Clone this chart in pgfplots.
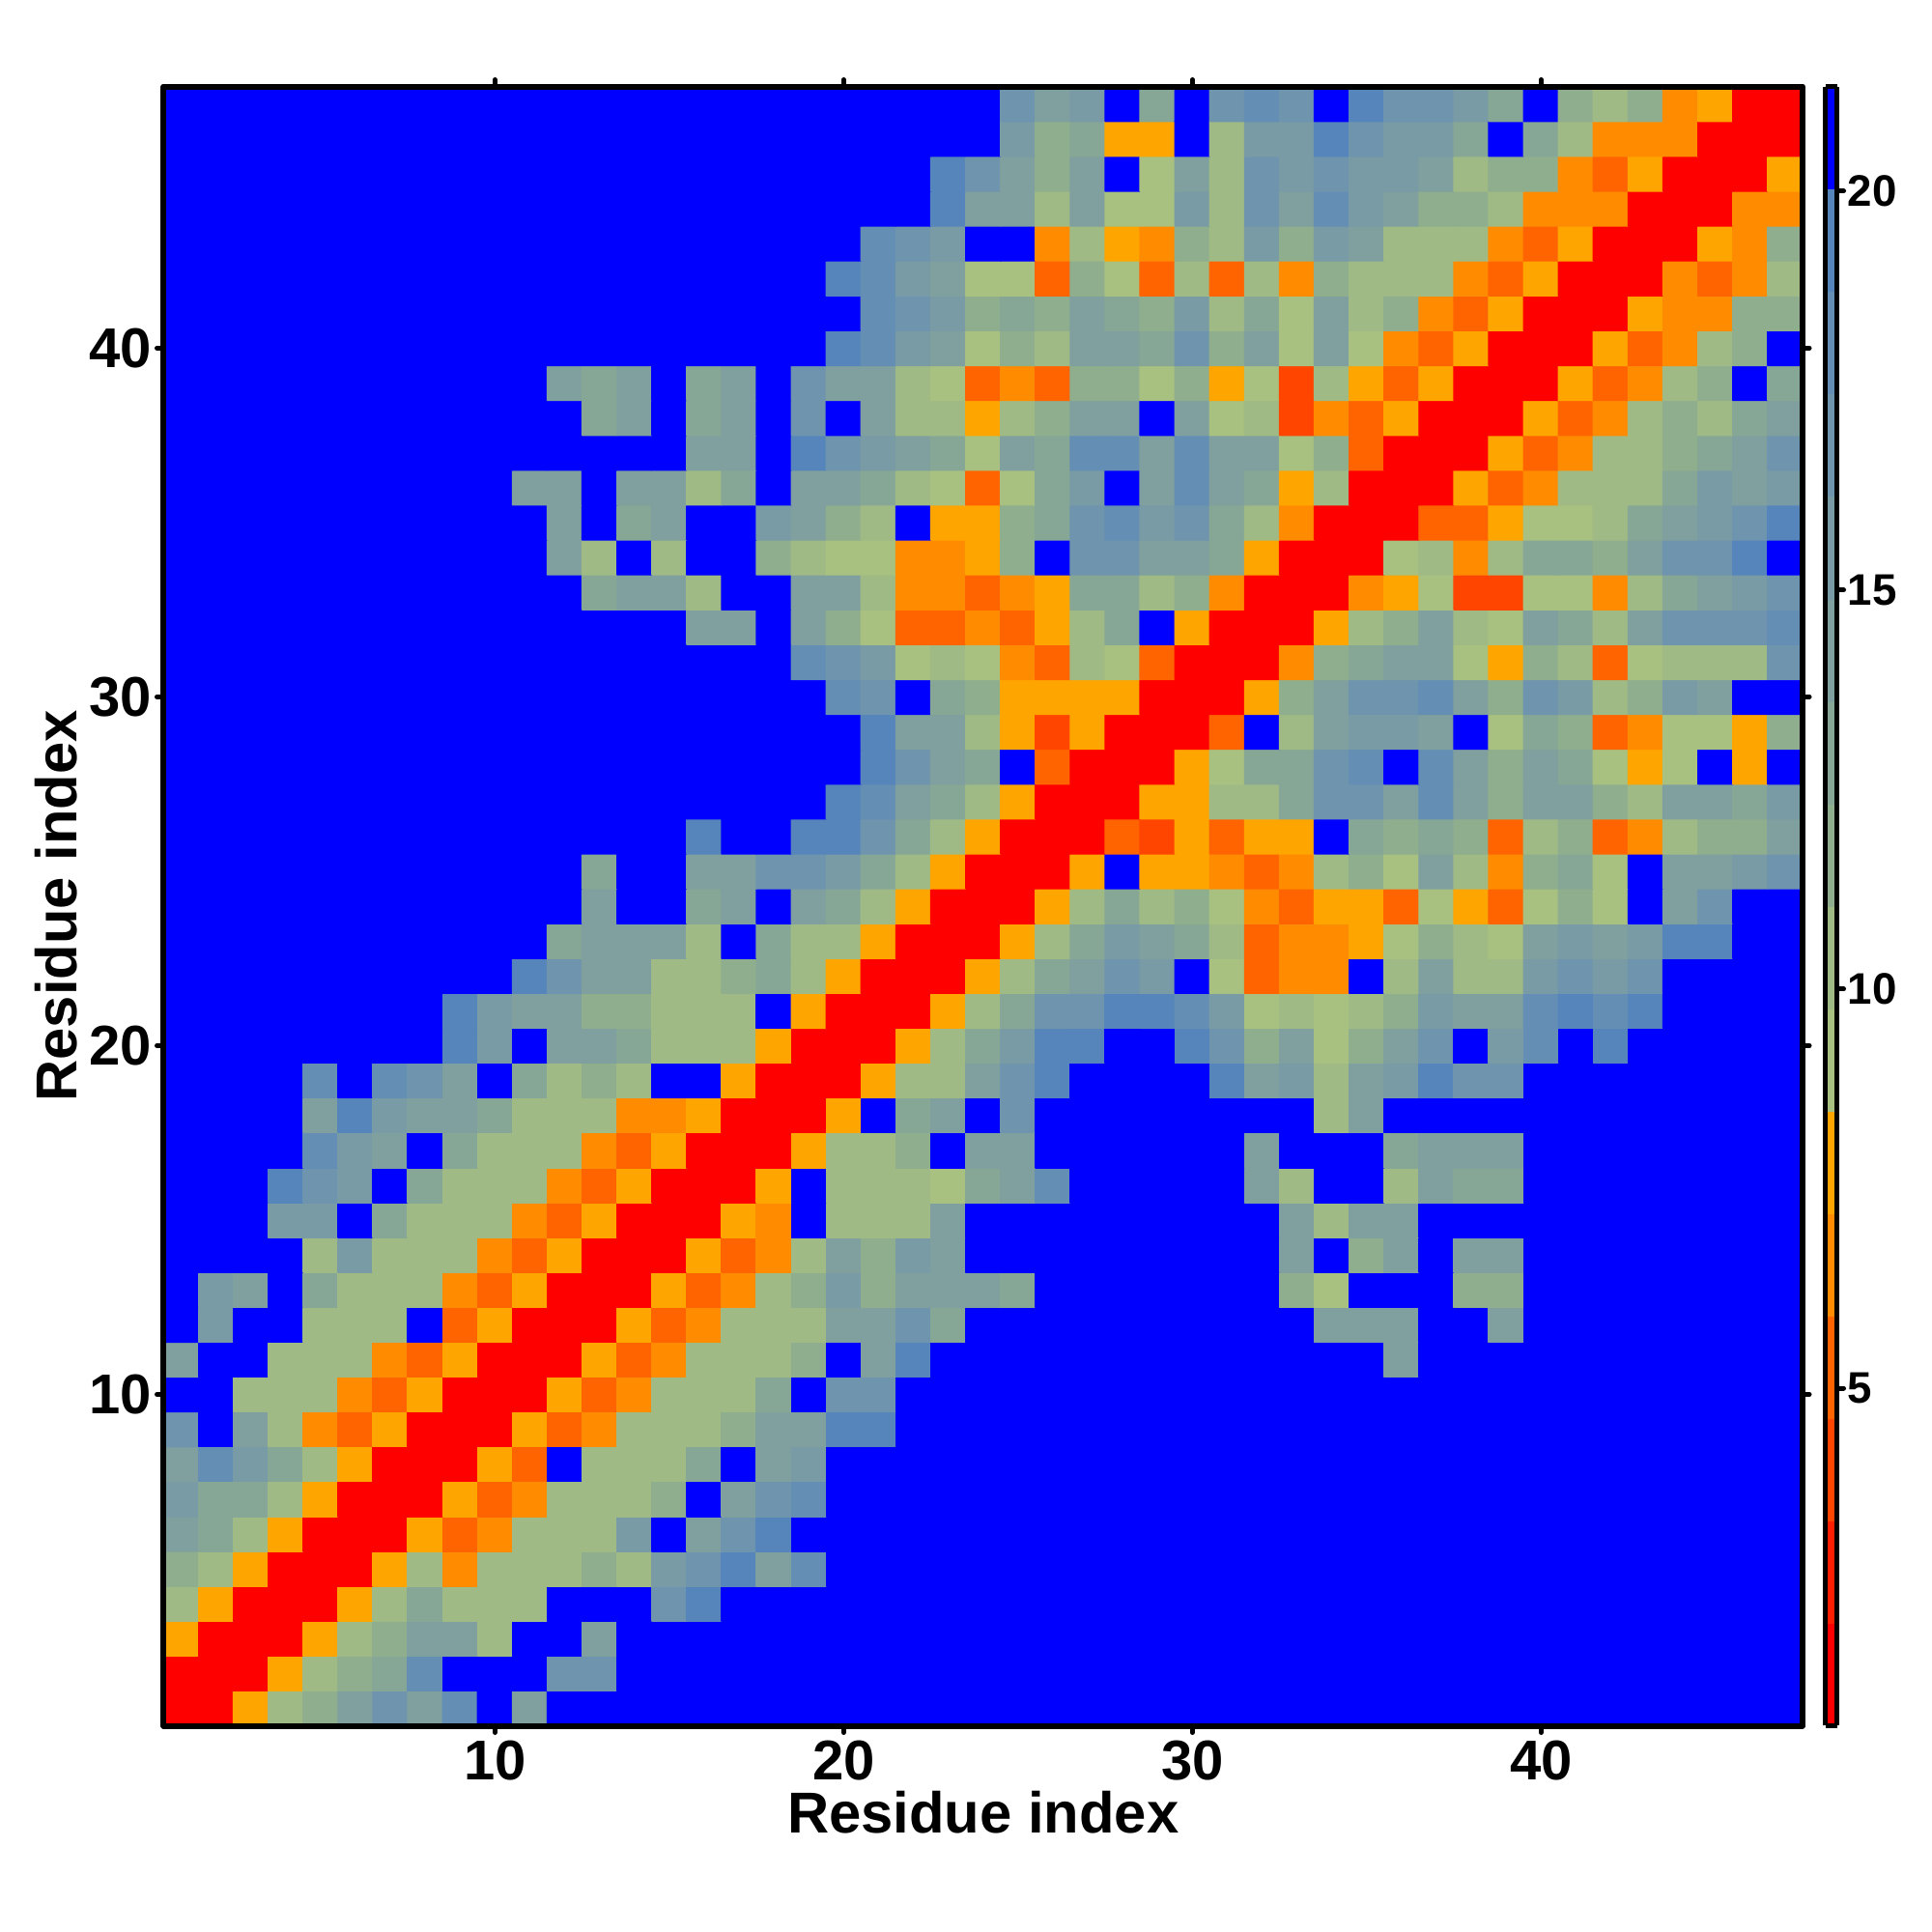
\documentclass[border=0pt]{standalone}
\usepackage{fontspec}
\setmainfont{Liberation Sans}
\usepackage{pgfplots}
\pgfplotsset{compat=1.18}
\begin{document}
\begin{tikzpicture}[line join=round]
\path[use as bounding box] (0,0) rectangle (20cm,20cm);
\begin{axis}[
  at={(1.695cm,2.135cm)}, anchor=south west,
  scale only axis, width=16.965cm, height=16.97cm,
  xmin=0.5, xmax=47.5, ymin=0.5, ymax=47.5,
  xtick={10,20,30,40}, ytick={10,20,30,40},
  tick align=outside, major tick length=0.07cm,
  tick style={black, line width=0.05cm, line cap=round},
  axis line style={black, line width=0.06cm, line join=round},
  axis on top,
  /pgf/number format/assume math mode=true,
  ticklabel style={font=\bfseries\fontsize{16.5}{16.5}\selectfont},
  xticklabel style={yshift=0.04cm},
  yticklabel style={xshift=0.07cm},
  xlabel={Residue index}, ylabel={Residue index},
  label style={font=\bfseries\fontsize{17}{17}\selectfont},
  xlabel style={yshift=0.125cm},
  ylabel style={yshift=-0.12cm},
  colormap={contact}{
    rgb255=(255,0,0) rgb255=(255,30,0) rgb255=(255,69,0) rgb255=(255,100,0)
    rgb255=(255,140,0) rgb255=(255,165,0)
    rgb255=(168,192,128) rgb255=(160,186,133) rgb255=(143,174,142)
    rgb255=(135,167,150) rgb255=(127,160,158) rgb255=(120,155,165)
    rgb255=(111,148,174) rgb255=(100,142,180) rgb255=(85,133,187)
    rgb255=(0,0,255)},
  colormap access=piecewise constant,
  point meta min=0.77, point meta max=21.31,
  colorbar, colorbar sampled,
  colorbar style={
    samples=17,
    at={(1.01385,0)}, anchor=south west,
    width=0.12cm,
    axis on top,
    ytick={5,10,15,20},
    ytick pos=right,
    tick align=outside, major tick length=0.07cm,
    tick style={black, line width=0.05cm, line cap=round},
    axis line style={black, line width=0.05cm, line join=round},
    /pgf/number format/assume math mode=true,
    yticklabel style={font=\bfseries\fontsize{13}{13}\selectfont, xshift=-0.08cm},
  },
]
\addplot[matrix plot*, mesh/cols=47, point meta=explicit]
  table[row sep=\\, header=false, x expr={\coordindex-47*floor((\coordindex+0.5)/47)+1}, y expr={floor((\coordindex+0.5)/47)+1}, meta index=0] {
1\\1\\8\\10\\12\\14\\17\\14\\18\\21\\14\\21\\21\\21\\21\\21\\ 21\\21\\21\\21\\21\\21\\21\\21\\21\\21\\21\\21\\21\\21\\21\\21\\ 21\\21\\21\\21\\21\\21\\21\\21\\21\\21\\21\\21\\21\\21\\21\\
1\\1\\1\\8\\10\\12\\13\\18\\21\\21\\21\\17\\17\\21\\21\\21\\ 21\\21\\21\\21\\21\\21\\21\\21\\21\\21\\21\\21\\21\\21\\21\\21\\ 21\\21\\21\\21\\21\\21\\21\\21\\21\\21\\21\\21\\21\\21\\21\\
8\\1\\1\\1\\8\\10\\12\\14\\14\\10\\21\\21\\14\\21\\21\\21\\ 21\\21\\21\\21\\21\\21\\21\\21\\21\\21\\21\\21\\21\\21\\21\\21\\ 21\\21\\21\\21\\21\\21\\21\\21\\21\\21\\21\\21\\21\\21\\21\\
10\\8\\1\\1\\1\\8\\10\\13\\10\\10\\10\\21\\21\\21\\17\\19\\ 21\\21\\21\\21\\21\\21\\21\\21\\21\\21\\21\\21\\21\\21\\21\\21\\ 21\\21\\21\\21\\21\\21\\21\\21\\21\\21\\21\\21\\21\\21\\21\\
12\\10\\8\\1\\1\\1\\8\\10\\7\\10\\10\\10\\12\\10\\16\\17\\ 19\\14\\18\\21\\21\\21\\21\\21\\21\\21\\21\\21\\21\\21\\21\\21\\ 21\\21\\21\\21\\21\\21\\21\\21\\21\\21\\21\\21\\21\\21\\21\\
14\\13\\10\\8\\1\\1\\1\\8\\5\\7\\10\\10\\10\\16\\21\\14\\ 17\\19\\21\\21\\21\\21\\21\\21\\21\\21\\21\\21\\21\\21\\21\\21\\ 21\\21\\21\\21\\21\\21\\21\\21\\21\\21\\21\\21\\21\\21\\21\\
16\\13\\13\\10\\8\\1\\1\\1\\8\\5\\7\\10\\10\\10\\12\\21\\ 14\\17\\18\\21\\21\\21\\21\\21\\21\\21\\21\\21\\21\\21\\21\\21\\ 21\\21\\21\\21\\21\\21\\21\\21\\21\\21\\21\\21\\21\\21\\21\\
14\\18\\16\\13\\10\\8\\1\\1\\1\\8\\5\\21\\10\\10\\10\\13\\ 21\\14\\16\\21\\21\\21\\21\\21\\21\\21\\21\\21\\21\\21\\21\\21\\ 21\\21\\21\\21\\21\\21\\21\\21\\21\\21\\21\\21\\21\\21\\21\\
17\\21\\14\\10\\7\\5\\8\\1\\1\\1\\8\\5\\7\\10\\10\\10\\ 12\\14\\14\\19\\19\\21\\21\\21\\21\\21\\21\\21\\21\\21\\21\\21\\ 21\\21\\21\\21\\21\\21\\21\\21\\21\\21\\21\\21\\21\\21\\21\\
21\\21\\10\\10\\10\\7\\5\\8\\1\\1\\1\\8\\5\\7\\10\\10\\ 10\\13\\21\\17\\17\\21\\21\\21\\21\\21\\21\\21\\21\\21\\21\\21\\ 21\\21\\21\\21\\21\\21\\21\\21\\21\\21\\21\\21\\21\\21\\21\\
14\\21\\21\\10\\10\\10\\7\\5\\8\\1\\1\\1\\8\\5\\7\\10\\ 10\\10\\12\\21\\14\\19\\21\\21\\21\\21\\21\\21\\21\\21\\21\\21\\ 21\\21\\21\\14\\21\\21\\21\\21\\21\\21\\21\\21\\21\\21\\21\\
21\\16\\21\\21\\10\\10\\10\\21\\5\\8\\1\\1\\1\\8\\5\\7\\ 10\\10\\10\\14\\14\\17\\13\\21\\21\\21\\21\\21\\21\\21\\21\\21\\ 21\\14\\14\\14\\21\\21\\14\\21\\21\\21\\21\\21\\21\\21\\21\\
21\\16\\14\\21\\13\\10\\10\\10\\7\\5\\8\\1\\1\\1\\8\\5\\ 7\\10\\12\\16\\12\\14\\14\\14\\13\\21\\21\\21\\21\\21\\21\\21\\ 12\\9\\21\\21\\21\\12\\12\\21\\21\\21\\21\\21\\21\\21\\21\\
21\\21\\21\\21\\10\\16\\10\\10\\10\\7\\5\\8\\1\\1\\1\\8\\ 5\\7\\10\\14\\12\\16\\14\\21\\21\\21\\21\\21\\21\\21\\21\\21\\ 14\\21\\12\\14\\21\\14\\14\\21\\21\\21\\21\\21\\21\\21\\21\\
21\\21\\21\\16\\16\\21\\13\\10\\10\\10\\7\\5\\8\\1\\1\\1\\ 8\\7\\21\\10\\10\\10\\14\\21\\21\\21\\21\\21\\21\\21\\21\\21\\ 14\\10\\14\\14\\21\\21\\21\\21\\21\\21\\21\\21\\21\\21\\21\\
21\\21\\21\\19\\17\\16\\21\\13\\10\\10\\10\\7\\5\\8\\1\\1\\ 1\\8\\21\\10\\10\\10\\9\\13\\14\\18\\21\\21\\21\\21\\21\\14\\ 10\\21\\21\\10\\14\\13\\13\\21\\21\\21\\21\\21\\21\\21\\21\\
21\\21\\21\\21\\18\\16\\14\\21\\13\\10\\10\\10\\7\\5\\8\\1\\ 1\\1\\8\\10\\10\\12\\21\\14\\14\\21\\21\\21\\21\\21\\21\\14\\ 21\\21\\21\\13\\14\\14\\14\\21\\21\\21\\21\\21\\21\\21\\21\\
21\\21\\21\\21\\14\\19\\16\\14\\14\\13\\10\\10\\10\\7\\7\\8\\ 1\\1\\1\\8\\21\\13\\14\\21\\17\\21\\21\\21\\21\\21\\21\\21\\ 21\\10\\14\\21\\21\\21\\21\\21\\21\\21\\21\\21\\21\\21\\21\\
21\\21\\21\\21\\18\\21\\18\\17\\14\\21\\13\\10\\12\\10\\21\\21\\ 8\\1\\1\\1\\8\\10\\10\\14\\17\\19\\21\\21\\21\\21\\19\\14\\ 16\\10\\14\\16\\19\\17\\17\\21\\21\\21\\21\\21\\21\\21\\21\\
21\\21\\21\\21\\21\\21\\21\\21\\19\\16\\21\\14\\14\\13\\10\\10\\ 10\\8\\1\\1\\1\\8\\10\\13\\16\\19\\19\\21\\21\\19\\17\\12\\ 14\\9\\12\\14\\17\\21\\16\\18\\21\\19\\21\\21\\21\\21\\21\\
21\\21\\21\\21\\21\\21\\21\\21\\19\\16\\14\\14\\12\\12\\10\\10\\ 10\\21\\8\\1\\1\\1\\8\\10\\13\\17\\17\\19\\19\\18\\16\\9\\ 10\\9\\10\\12\\16\\14\\14\\18\\19\\18\\19\\21\\21\\21\\21\\
21\\21\\21\\21\\21\\21\\21\\21\\21\\21\\19\\17\\14\\14\\10\\10\\ 12\\13\\10\\8\\1\\1\\1\\8\\10\\13\\14\\17\\16\\21\\9\\5\\ 7\\7\\21\\10\\14\\10\\10\\16\\17\\16\\17\\21\\21\\21\\21\\
21\\21\\21\\21\\21\\21\\21\\21\\21\\21\\21\\13\\14\\14\\14\\10\\ 21\\13\\10\\10\\8\\1\\1\\1\\8\\10\\13\\16\\14\\13\\10\\5\\ 7\\7\\8\\9\\12\\10\\9\\14\\16\\14\\16\\19\\19\\21\\21\\
21\\21\\21\\21\\21\\21\\21\\21\\21\\21\\21\\21\\14\\21\\21\\13\\ 14\\21\\14\\13\\10\\8\\1\\1\\1\\8\\10\\13\\10\\12\\9\\7\\ 5\\8\\8\\5\\9\\8\\5\\9\\12\\9\\21\\14\\17\\21\\21\\
21\\21\\21\\21\\21\\21\\21\\21\\21\\21\\21\\21\\13\\21\\21\\14\\ 14\\17\\17\\16\\13\\10\\8\\1\\1\\1\\8\\21\\8\\8\\7\\5\\ 7\\10\\12\\9\\14\\10\\7\\12\\13\\9\\21\\14\\14\\16\\17\\
21\\21\\21\\21\\21\\21\\21\\21\\21\\21\\21\\21\\21\\21\\21\\19\\ 21\\21\\19\\19\\17\\13\\10\\8\\1\\1\\1\\5\\4\\8\\5\\8\\ 8\\21\\13\\12\\13\\12\\5\\10\\12\\5\\7\\10\\12\\12\\14\\
21\\21\\21\\21\\21\\21\\21\\21\\21\\21\\21\\21\\21\\21\\21\\21\\ 21\\21\\21\\19\\18\\14\\13\\10\\8\\1\\1\\1\\8\\8\\10\\10\\ 13\\17\\17\\14\\18\\14\\12\\14\\14\\12\\10\\14\\14\\13\\16\\
21\\21\\21\\21\\21\\21\\21\\21\\21\\21\\21\\21\\21\\21\\21\\21\\ 21\\21\\21\\21\\19\\17\\14\\13\\21\\5\\1\\1\\1\\8\\9\\13\\ 13\\17\\18\\21\\18\\14\\12\\14\\13\\9\\8\\9\\21\\8\\21\\
21\\21\\21\\21\\21\\21\\21\\21\\21\\21\\21\\21\\21\\21\\21\\21\\ 21\\21\\21\\21\\19\\14\\14\\10\\8\\4\\8\\1\\1\\1\\5\\21\\ 10\\14\\16\\16\\14\\21\\9\\13\\12\\5\\7\\9\\9\\8\\12\\
21\\21\\21\\21\\21\\21\\21\\21\\21\\21\\21\\21\\21\\21\\21\\21\\ 21\\21\\21\\18\\17\\21\\13\\12\\8\\8\\8\\8\\1\\1\\1\\8\\ 12\\14\\17\\17\\18\\14\\12\\17\\16\\10\\12\\16\\14\\21\\21\\
21\\21\\21\\21\\21\\21\\21\\21\\21\\21\\21\\21\\21\\21\\21\\21\\ 21\\21\\18\\17\\16\\9\\10\\9\\7\\5\\10\\9\\5\\1\\1\\1\\ 7\\12\\13\\14\\14\\9\\8\\12\\10\\5\\9\\10\\10\\10\\17\\
21\\21\\21\\21\\21\\21\\21\\21\\21\\21\\21\\21\\21\\21\\21\\14\\ 14\\21\\14\\12\\9\\5\\5\\7\\5\\8\\10\\13\\21\\8\\1\\1\\ 1\\8\\10\\12\\14\\10\\9\\14\\13\\10\\14\\17\\17\\17\\18\\
21\\21\\21\\21\\21\\21\\21\\21\\21\\21\\21\\21\\13\\14\\14\\10\\ 21\\21\\14\\14\\10\\7\\7\\5\\7\\8\\13\\13\\10\\12\\7\\1\\ 1\\1\\7\\8\\9\\4\\4\\9\\9\\7\\10\\13\\14\\16\\17\\
21\\21\\21\\21\\21\\21\\21\\21\\21\\21\\21\\14\\10\\21\\10\\21\\ 21\\12\\10\\9\\9\\7\\7\\8\\12\\21\\17\\17\\14\\14\\13\\8\\ 1\\1\\1\\9\\10\\7\\10\\13\\13\\12\\14\\17\\17\\19\\21\\
21\\21\\21\\21\\21\\21\\21\\21\\21\\21\\21\\14\\21\\13\\14\\21\\ 21\\16\\14\\12\\10\\21\\8\\8\\12\\13\\17\\18\\16\\17\\13\\10\\ 7\\1\\1\\1\\5\\5\\8\\9\\9\\10\\13\\14\\16\\17\\19\\
21\\21\\21\\21\\21\\21\\21\\21\\21\\21\\14\\14\\21\\14\\14\\10\\ 13\\21\\14\\14\\13\\10\\9\\5\\9\\13\\16\\21\\14\\18\\14\\13\\ 8\\10\\1\\1\\1\\8\\5\\7\\10\\10\\10\\13\\16\\14\\16\\
21\\21\\21\\21\\21\\21\\21\\21\\21\\21\\21\\21\\21\\21\\21\\14\\ 14\\21\\19\\17\\16\\14\\13\\9\\14\\13\\18\\18\\14\\18\\14\\14\\ 9\\12\\5\\1\\1\\1\\8\\5\\7\\10\\10\\12\\13\\14\\17\\
21\\21\\21\\21\\21\\21\\21\\21\\21\\21\\21\\21\\13\\14\\21\\13\\ 14\\21\\17\\21\\14\\10\\10\\8\\10\\12\\14\\14\\21\\14\\9\\10\\ 4\\7\\5\\8\\1\\1\\1\\8\\5\\7\\10\\12\\10\\13\\14\\
21\\21\\21\\21\\21\\21\\21\\21\\21\\21\\21\\14\\13\\14\\21\\13\\ 14\\21\\17\\14\\14\\10\\9\\5\\7\\5\\12\\12\\9\\12\\8\\9\\ 4\\10\\8\\5\\8\\1\\1\\1\\8\\5\\7\\10\\12\\21\\13\\
21\\21\\21\\21\\21\\21\\21\\21\\21\\21\\21\\21\\21\\21\\21\\21\\ 21\\21\\21\\19\\18\\16\\14\\9\\12\\10\\14\\14\\13\\17\\12\\14\\ 9\\14\\9\\7\\5\\8\\1\\1\\1\\8\\5\\7\\10\\12\\21\\
21\\21\\21\\21\\21\\21\\21\\21\\21\\21\\21\\21\\21\\21\\21\\21\\ 21\\21\\21\\21\\18\\17\\16\\12\\13\\12\\14\\13\\12\\16\\10\\13\\ 9\\14\\10\\12\\7\\5\\8\\1\\1\\1\\8\\7\\7\\12\\12\\
21\\21\\21\\21\\21\\21\\21\\21\\21\\21\\21\\21\\21\\21\\21\\21\\ 21\\21\\21\\19\\18\\16\\14\\9\\9\\5\\12\\9\\5\\10\\5\\10\\ 7\\12\\10\\10\\10\\7\\5\\8\\1\\1\\1\\7\\5\\7\\10\\
21\\21\\21\\21\\21\\21\\21\\21\\21\\21\\21\\21\\21\\21\\21\\21\\ 21\\21\\21\\21\\18\\17\\16\\21\\21\\7\\10\\8\\7\\12\\10\\16\\ 12\\16\\14\\10\\10\\10\\7\\5\\8\\1\\1\\1\\8\\7\\12\\
21\\21\\21\\21\\21\\21\\21\\21\\21\\21\\21\\21\\21\\21\\21\\21\\ 21\\21\\21\\21\\21\\21\\19\\14\\14\\10\\14\\9\\9\\16\\10\\17\\ 14\\18\\16\\14\\12\\12\\10\\7\\7\\7\\1\\1\\1\\7\\7\\
21\\21\\21\\21\\21\\21\\21\\21\\21\\21\\21\\21\\21\\21\\21\\21\\ 21\\21\\21\\21\\21\\21\\19\\17\\14\\12\\14\\21\\9\\14\\10\\17\\ 16\\17\\16\\16\\14\\10\\12\\12\\7\\5\\8\\1\\1\\1\\8\\
21\\21\\21\\21\\21\\21\\21\\21\\21\\21\\21\\21\\21\\21\\21\\21\\ 21\\21\\21\\21\\21\\21\\21\\21\\16\\12\\13\\8\\8\\21\\10\\16\\ 16\\19\\17\\16\\16\\13\\21\\13\\10\\7\\7\\7\\1\\1\\1\\
21\\21\\21\\21\\21\\21\\21\\21\\21\\21\\21\\21\\21\\21\\21\\21\\ 21\\21\\21\\21\\21\\21\\21\\21\\17\\14\\16\\21\\13\\21\\17\\18\\ 17\\21\\19\\17\\17\\16\\13\\21\\12\\10\\12\\7\\8\\1\\1\\
};
\end{axis}
\end{tikzpicture}
\end{document}
